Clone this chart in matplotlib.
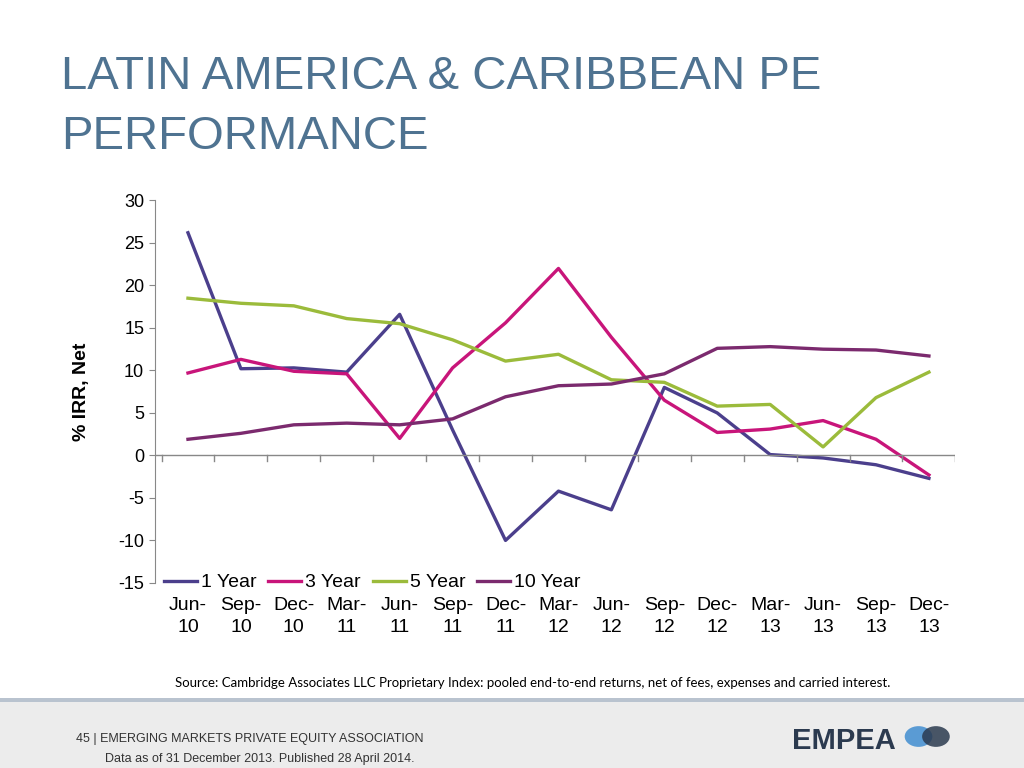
import matplotlib.pyplot as plt
import matplotlib.patches as mpatches

plt.rcParams["font.family"] = ["Liberation Sans", "DejaVu Sans"]
plt.rcParams["axes.unicode_minus"] = False

quarters = ["Jun-\n10", "Sep-\n10", "Dec-\n10", "Mar-\n11", "Jun-\n11", "Sep-\n11", "Dec-\n11",
            "Mar-\n12", "Jun-\n12", "Sep-\n12", "Dec-\n12", "Mar-\n13", "Jun-\n13", "Sep-\n13", "Dec-\n13"]
one_year = [26.2, 10.2, 10.3, 9.8, 16.6, 3.0, -10.0, -4.2, -6.4, 8.0, 5.0, 0.1, -0.3, -1.1, -2.7]
three_year = [9.7, 11.3, 9.9, 9.6, 2.0, 10.3, 15.6, 22.0, 13.9, 6.5, 2.7, 3.1, 4.1, 1.9, -2.3]
five_year = [18.5, 17.9, 17.6, 16.1, 15.5, 13.6, 11.1, 11.9, 8.9, 8.6, 5.8, 6.0, 1.0, 6.8, 9.8]
ten_year = [1.9, 2.6, 3.6, 3.8, 3.6, 4.3, 6.9, 8.2, 8.4, 9.6, 12.6, 12.8, 12.5, 12.4, 11.7]

fig = plt.figure(figsize=(10.24, 7.68), dpi=100)
fig.patch.set_facecolor("white")

# footer band
fig.patches.append(mpatches.Rectangle((0, 0), 1, 0.088, transform=fig.transFigure,
                                      facecolor="#ececec", edgecolor="none", zorder=0))
fig.patches.append(mpatches.Rectangle((0, 0.086), 1, 0.005, transform=fig.transFigure,
                                      facecolor="#b9c3cf", edgecolor="none", zorder=0))

fig.text(0.060, 0.928, "LATIN AMERICA & CARIBBEAN PE\nPERFORMANCE", fontsize=34,
         color="#4f7391", va="top", ha="left", linespacing=1.45)

ax = fig.add_axes([0.151, 0.241, 0.782, 0.498])
x = range(len(quarters))
ax.plot(x, one_year, color="#4b3f8c", lw=2.4, label="1 Year")
ax.plot(x, three_year, color="#c8157a", lw=2.4, label="3 Year")
ax.plot(x, five_year, color="#9bbb3b", lw=2.4, label="5 Year")
ax.plot(x, ten_year, color="#7b2a6e", lw=2.4, label="10 Year")

ax.set_xlim(-0.63, len(quarters) - 0.5)
ax.set_ylim(-15, 30)
ax.set_yticks(range(-15, 31, 5))
ax.tick_params(axis="y", labelsize=13, length=4, color="#888888")
ax.set_xticks([])
for s in ["top", "right", "bottom"]:
    ax.spines[s].set_visible(False)
ax.spines["left"].set_color("#888888")
ax.axhline(0, color="#888888", lw=1)
for i in range(len(quarters) + 1):
    ax.plot([i - 0.5, i - 0.5], [0, -0.6], color="#888888", lw=1)
for i, q in enumerate(quarters):
    ax.text(i, -16.7, q, ha="center", va="top", fontsize=14, linespacing=1.35)
ax.set_ylabel("% IRR, Net", fontsize=14, fontweight="bold", labelpad=20)
ax.legend(loc="lower left", ncol=4, frameon=False, fontsize=14, bbox_to_anchor=(-0.01, -0.068),
          handlelength=1.7, columnspacing=0.6, handletextpad=0.2)

fig.text(0.52, 0.106, "Source: Cambridge Associates LLC Proprietary Index: pooled end-to-end returns, "
         "net of fees, expenses and carried interest.", ha="center", fontsize=9.5,
         family="Lato")
fig.text(0.074, 0.034, "45 | EMERGING MARKETS PRIVATE EQUITY ASSOCIATION", fontsize=9, color="#333333")
fig.text(0.103, 0.008, "Data as of 31 December 2013. Published 28 April 2014.", fontsize=9, color="#333333")
fig.text(0.773, 0.025, "EMPEA", fontsize=21, fontweight="bold", color="#2b3a4f")
fig.patches.append(mpatches.Circle((0.897, 0.041), 0.0135, transform=fig.transFigure,
                                   facecolor="#5a9bd4", edgecolor="none"))
fig.patches.append(mpatches.Circle((0.914, 0.041), 0.0135, transform=fig.transFigure,
                                   facecolor="#2b3a4f", edgecolor="none", alpha=0.85))

fig.savefig("out.png", dpi=100)
